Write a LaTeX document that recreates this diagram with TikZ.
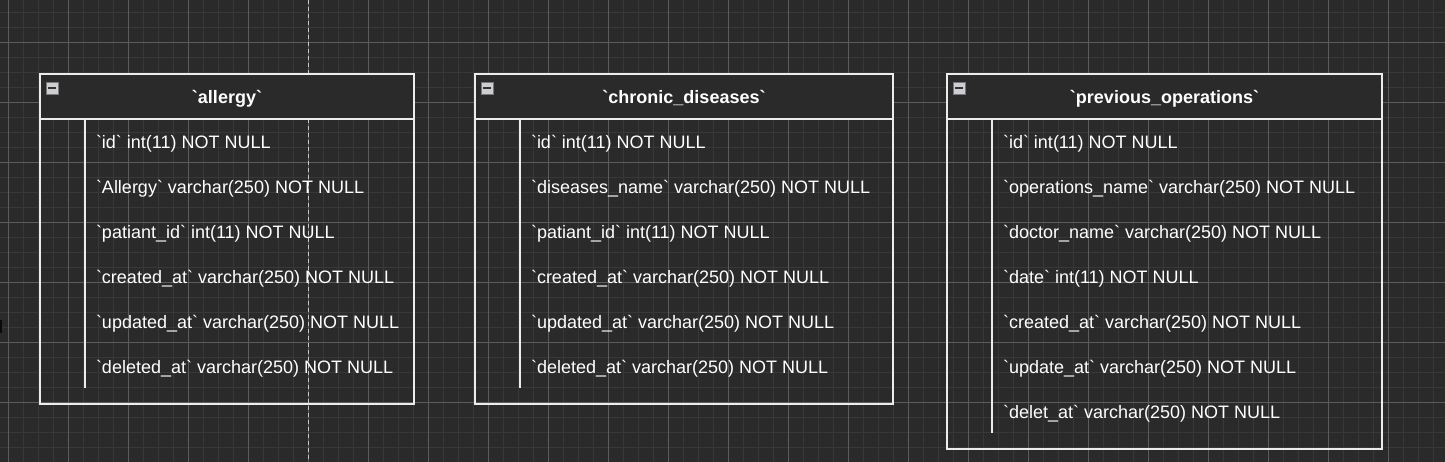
\documentclass[tikz,border=0pt]{standalone}
\usepackage{fontspec}
\setmainfont{Liberation Sans}
\usepackage{tikz}
\usetikzlibrary{positioning}
\definecolor{canvas}{RGB}{42,42,42}
\definecolor{gridminor}{RGB}{56,56,56}
\definecolor{gridmajor}{RGB}{92,92,92}
\definecolor{edgewhite}{RGB}{236,236,236}
\definecolor{iconfill}{RGB}{205,205,210}
\definecolor{iconedge}{RGB}{120,120,125}
\newcommand{\bq}{\textasciigrave}

\begin{document}
\begin{tikzpicture}[
  x=1pt, y=-1pt,
  every node/.style={inner sep=0pt, outer sep=0pt},
  tabhead/.style={rectangle, draw=edgewhite, line width=1.2pt, fill=canvas,
    minimum height=45pt, text=white, text height=15pt, text depth=0pt,
    font=\fontsize{18}{20}\selectfont\bfseries},
  tabbody/.style={rectangle, draw=edgewhite, line width=1.2pt},
  field/.style={anchor=west, text=white, text height=13pt, text depth=4pt,
    font=\fontsize{18}{20}\selectfont},
  nextrow/.style={below=45pt of #1.west, anchor=west},
  minusbox/.style={rectangle, draw=iconedge, fill=iconfill, minimum size=12pt,
    anchor=north west},
  keyline/.style={draw=edgewhite, line width=1.2pt}
]
  % canvas and grid
  \useasboundingbox (0,0) rectangle (1445,462);
  \fill[canvas] (0,0) rectangle (1445,462);
  \begin{scope}
    \clip (0,0) rectangle (1445,462);
    \foreach \gx in {8.3,23.3,...,1445} \draw[gridminor, line width=1pt] (\gx,0) -- (\gx,462);
    \foreach \gy in {-2.3,12.7,...,463} \draw[gridminor, line width=1pt] (0,\gy) -- (1445,\gy);
    \foreach \gx in {8.3,68.3,...,1445} \draw[gridmajor, line width=1pt] (\gx,0) -- (\gx,462);
    \foreach \gy in {-17.3,42.7,...,463} \draw[gridmajor, line width=1pt] (0,\gy) -- (1445,\gy);
    \draw[edgewhite!85!black, line width=1.2pt, dash pattern=on 4pt off 3pt] (308.3,0) -- (308.3,462);
    \fill[gridmajor!150] (0,320) rectangle (2,333);
  \end{scope}

  % table: allergy
  \node[tabhead, minimum width=374pt, anchor=north west] (allergyhead) at (40,74) {\bq allergy\bq};
  \node[tabbody, minimum width=374pt, minimum height=285pt, below=0pt of allergyhead] (allergybody) {};
  \node[minusbox] (allergyicon) at ([xshift=6pt, yshift=-8pt]allergyhead.north west)
    {\textcolor{black!80}{\rule{8pt}{1.6pt}}};
  \node[field] (a1) at ([xshift=56pt, yshift=-25pt]allergybody.north west) {\bq id\bq\ int(11) NOT NULL};
  \node[field, nextrow=a1] (a2) {\bq Allergy\bq\ varchar(250) NOT NULL};
  \node[field, nextrow=a2] (a3) {\bq patiant\_id\bq\ int(11) NOT NULL};
  \node[field, nextrow=a3] (a4) {\bq created\_at\bq\ varchar(250) NOT NULL};
  \node[field, nextrow=a4] (a5) {\bq updated\_at\bq\ varchar(250) NOT NULL};
  \node[field, nextrow=a5] (a6) {\bq deleted\_at\bq\ varchar(250) NOT NULL};
  \draw[keyline] ([xshift=45pt]allergybody.north west) -- ([xshift=45pt, yshift=16pt]allergybody.south west);

  % table: chronic_diseases
  \node[tabhead, minimum width=418pt, anchor=north west] (chronichead) at (475,74) {\bq chronic\_diseases\bq};
  \node[tabbody, minimum width=418pt, minimum height=285pt, below=0pt of chronichead] (chronicbody) {};
  \node[minusbox] (chronicicon) at ([xshift=6pt, yshift=-8pt]chronichead.north west)
    {\textcolor{black!80}{\rule{8pt}{1.6pt}}};
  \node[field] (c1) at ([xshift=56pt, yshift=-25pt]chronicbody.north west) {\bq id\bq\ int(11) NOT NULL};
  \node[field, nextrow=c1] (c2) {\bq diseases\_name\bq\ varchar(250) NOT NULL};
  \node[field, nextrow=c2] (c3) {\bq patiant\_id\bq\ int(11) NOT NULL};
  \node[field, nextrow=c3] (c4) {\bq created\_at\bq\ varchar(250) NOT NULL};
  \node[field, nextrow=c4] (c5) {\bq updated\_at\bq\ varchar(250) NOT NULL};
  \node[field, nextrow=c5] (c6) {\bq deleted\_at\bq\ varchar(250) NOT NULL};
  \draw[keyline] ([xshift=45pt]chronicbody.north west) -- ([xshift=45pt, yshift=16pt]chronicbody.south west);

  % table: previous_operations
  \node[tabhead, minimum width=435pt, anchor=north west] (prevophead) at (947,74) {\bq previous\_operations\bq};
  \node[tabbody, minimum width=435pt, minimum height=330pt, below=0pt of prevophead] (prevopbody) {};
  \node[minusbox] (prevopicon) at ([xshift=6pt, yshift=-8pt]prevophead.north west)
    {\textcolor{black!80}{\rule{8pt}{1.6pt}}};
  \node[field] (p1) at ([xshift=56pt, yshift=-25pt]prevopbody.north west) {\bq id\bq\ int(11) NOT NULL};
  \node[field, nextrow=p1] (p2) {\bq operations\_name\bq\ varchar(250) NOT NULL};
  \node[field, nextrow=p2] (p3) {\bq doctor\_name\bq\ varchar(250) NOT NULL};
  \node[field, nextrow=p3] (p4) {\bq date\bq\ int(11) NOT NULL};
  \node[field, nextrow=p4] (p5) {\bq created\_at\bq\ varchar(250) NOT NULL};
  \node[field, nextrow=p5] (p6) {\bq update\_at\bq\ varchar(250) NOT NULL};
  \node[field, nextrow=p6] (p7) {\bq delet\_at\bq\ varchar(250) NOT NULL};
  \draw[keyline] ([xshift=45pt]prevopbody.north west) -- ([xshift=45pt, yshift=16pt]prevopbody.south west);
\end{tikzpicture}
\end{document}
